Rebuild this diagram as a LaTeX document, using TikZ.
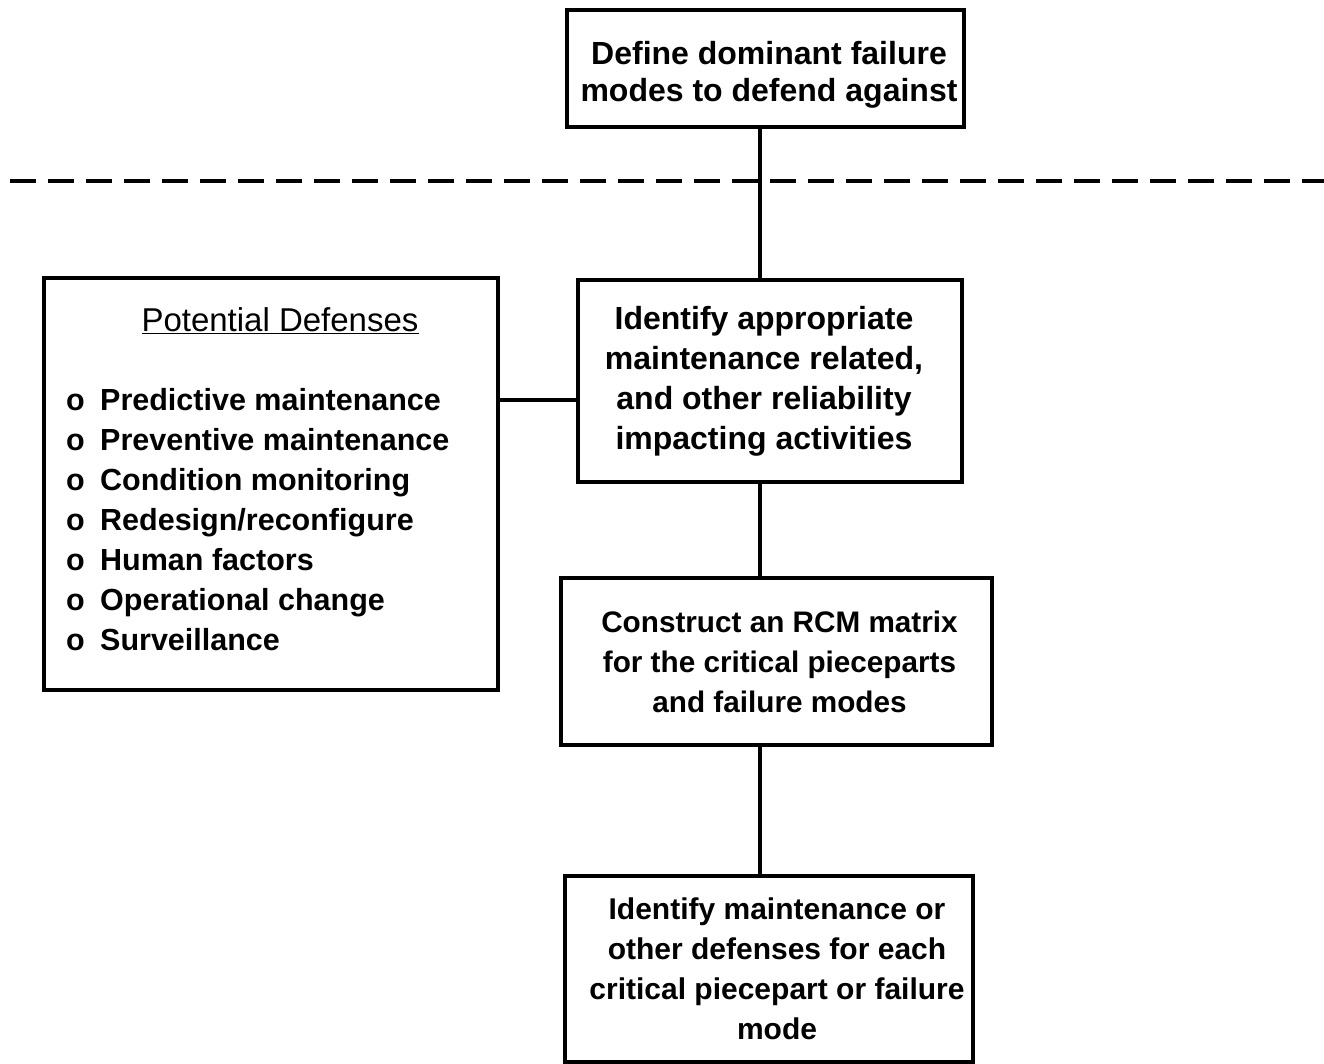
\documentclass[tikz,border=0pt]{standalone}
\usepackage{fontspec}
\setmainfont{Liberation Sans}
\begin{document}
\begin{tikzpicture}[x=1pt,y=-1pt,
  box/.style={draw, line width=4pt, inner sep=0pt, align=center,
    font=\fontsize{30}{40}\selectfont\bfseries},
  txt/.style={inner sep=0pt, align=center,
    font=\fontsize{32}{37}\selectfont\bfseries},
  conn/.style={line width=4pt},
  listtext/.style={inner sep=0pt, align=left, anchor=north west,
    font=\fontsize{30.5}{40}\selectfont\bfseries}]
\useasboundingbox (0,0) rectangle (1324,1064);
\node[box, minimum width=397pt, minimum height=117pt] (top) at (765.5,68.5) {};
\node[txt] (toptext) at (769,74.5)
  {Define dominant failure\\modes to defend against};
\node[box, minimum width=384pt, minimum height=202pt,
  font=\fontsize{32}{40}\selectfont\bfseries] (ident) at (770,381)
  {\hspace*{-12pt}Identify appropriate\\\hspace*{-12pt}maintenance related,\\\hspace*{-12pt}and other reliability\\\hspace*{-12pt}impacting activities};
\node[box, minimum width=454pt, minimum height=412pt] (def) at (271,484) {};
\node[box, minimum width=431pt, minimum height=167pt,
  font=\fontsize{29.7}{40}\selectfont\bfseries] (rcm) at (776.5,661.5)
  {\hspace*{6pt}Construct an RCM matrix\\\hspace*{6pt}for the critical pieceparts\\\hspace*{6pt}and failure modes};
\node[box, minimum width=408pt, minimum height=186pt] (bot) at (769,969)
  {\hspace*{16pt}Identify maintenance or\\\hspace*{16pt}other defenses for each\\\hspace*{16pt}critical piecepart or failure\\\hspace*{16pt}mode};
\node[inner sep=0pt, font=\fontsize{33}{40}\selectfont] (head) at (280,321)
  {\underline{Potential Defenses}};
\node[listtext] (list) at (66,388)
  {\makebox[34pt][l]{o}Predictive maintenance\\
   \makebox[34pt][l]{o}Preventive maintenance\\
   \makebox[34pt][l]{o}Condition monitoring\\
   \makebox[34pt][l]{o}Redesign/reconfigure\\
   \makebox[34pt][l]{o}Human factors\\
   \makebox[34pt][l]{o}Operational change\\
   \makebox[34pt][l]{o}Surveillance};
\coordinate (spine) at (760,0);
\coordinate (lvl) at (0,400);
\coordinate (dl) at (10,181);
\coordinate (dr) at (1324,181);
\draw[conn] (top.south -| spine) -- (ident.north -| spine);
\draw[conn] (ident.south -| spine) -- (rcm.north -| spine);
\draw[conn] (rcm.south -| spine) -- (bot.north -| spine);
\draw[conn] (def.east |- lvl) -- (ident.west |- lvl);
\draw[line width=4pt, dash pattern=on 26pt off 12pt] (dl) -- (dr);
\end{tikzpicture}
\end{document}
